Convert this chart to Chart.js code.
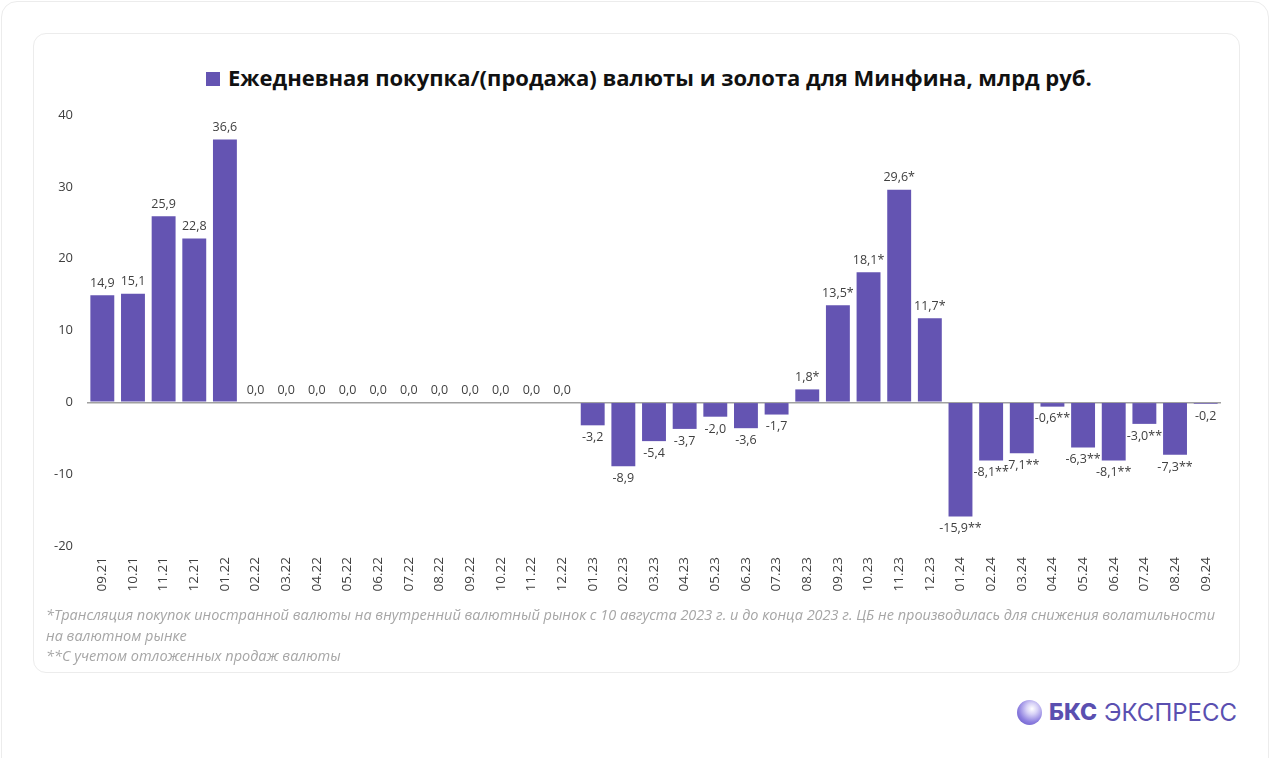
<!DOCTYPE html>
<html>
<head>
<meta charset="utf-8">
<script src="https://cdn.jsdelivr.net/npm/chart.js@4.4.0/dist/chart.umd.min.js"></script>
<style>
    html, body { margin: 0; padding: 0; background: #fff; }
    body { width: 1273px; height: 758px; position: relative; overflow: hidden; font-family: 'Open Sans', sans-serif; }
    .outer { position: absolute; left: 1px; top: 1px; width: 1268px; height: 780px; border: 1.5px solid #ececec; border-radius: 16px; box-sizing: border-box; }
    .card { position: absolute; left: 33px; top: 33px; width: 1207px; height: 640px; border: 1.5px solid #ececec; border-radius: 13px; box-sizing: border-box; }
    .title { position: absolute; left: 206px; top: 62px; font-weight: 700; font-size: 22px; color: #111; white-space: nowrap; line-height: 30px; }
    .title .box { display: inline-block; width: 14px; height: 14px; background: #6454b2; margin-right: 8px; vertical-align: 0px; }
    #wrap { position: absolute; left: 33px; top: 33px; width: 1207px; height: 640px; }
    .notes { position: absolute; left: 46px; top: 605px; font-style: italic; font-size: 14.5px; line-height: 20.5px; color: #a6a6a6; white-space: nowrap; }
    .logo { position: absolute; left: 1017px; top: 697px; height: 30px; display: flex; align-items: center; color: #5a4fb0; font-family: 'Inter', sans-serif; font-size: 24px; white-space: nowrap; }
    .logo .ball { width: 25px; height: 25px; border-radius: 50%; background: radial-gradient(circle at 60% 35%, #ffffff 0%, #d8d2f7 25%, #8e80e0 60%, #5a4bc0 100%); margin-right: 7px; }
    .logo b { font-weight: 800; margin-right: 7px; font-size: 23px; }
    .logo span { font-weight: 400; }
</style>
</head>
<body>
<div class="outer"></div>
<div class="card"></div>
<div class="title"><span class="box"></span>Ежедневная покупка/(продажа) валюты и золота для Минфина, млрд руб.</div>
<div id="wrap"><canvas id="mainChart"></canvas></div>
<div class="notes">*Трансляция покупок иностранной валюты на внутренний валютный рынок с 10 августа 2023 г. и до конца 2023 г. ЦБ не производилась для снижения волатильности<br>на валютном рынке<br>**С учетом отложенных продаж валюты</div>
<div class="logo"><div class="ball"></div><b>БКС</b><span>ЭКСПРЕСС</span></div>

<script>
/* ===== ДАННЫЕ ===== */
const months = [
    '09.21', '10.21', '11.21', '12.21', '01.22', '02.22', '03.22', '04.22', '05.22', '06.22',
    '07.22', '08.22', '09.22', '10.22', '11.22', '12.22', '01.23', '02.23', '03.23', '04.23',
    '05.23', '06.23', '07.23', '08.23', '09.23', '10.23', '11.23', '12.23', '01.24', '02.24',
    '03.24', '04.24', '05.24', '06.24', '07.24', '08.24', '09.24'
];
const values = [
    14.9, 15.1, 25.9, 22.8, 36.6, 0, 0, 0, 0, 0,
    0, 0, 0, 0, 0, 0, -3.2, -8.9, -5.4, -3.7,
    -2.0, -3.6, -1.7, 1.8, 13.5, 18.1, 29.6, 11.7, -15.9, -8.1,
    -7.1, -0.6, -6.3, -8.1, -3.0, -7.3, -0.2
];
// сноски к подписям
const marks = [
    '', '', '', '', '', '', '', '', '', '',
    '', '', '', '', '', '', '', '', '', '',
    '', '', '', '*', '*', '*', '*', '*', '**', '**',
    '**', '**', '**', '**', '**', '**', ''
];
const yTicks = [-20, -10, 0, 10, 20, 30, 40];

const barColor = '#6454b2';

// Подписи значений над/под столбцами
const valueLabels = {
    id: 'valueLabels',
    afterDatasetsDraw(chart) {
        const ctx = chart.ctx;
        const meta = chart.getDatasetMeta(0);
        ctx.save();
        ctx.font = '12.5px "Open Sans", sans-serif';
        ctx.fillStyle = '#404040';
        ctx.textAlign = 'center';
        meta.data.forEach((bar, i) => {
            const v = values[i];
            const txt = v.toFixed(1).replace('.', ',') + marks[i];
            if (v >= 0) {
                ctx.textBaseline = 'bottom';
                ctx.fillText(txt, bar.x, bar.y - 6);
            } else {
                ctx.textBaseline = 'top';
                ctx.fillText(txt, bar.x, bar.y + 6);
            }
        });
        ctx.restore();
    }
};

new Chart(document.getElementById('mainChart'), {
    type: 'bar',
    data: {
        labels: months,
        datasets: [{
            label: 'Ежедневная покупка/(продажа) валюты и золота для Минфина, млрд руб.',
            data: values,
            backgroundColor: barColor,
            borderWidth: 0,
            categoryPercentage: 1,
            barPercentage: 0.78
        }]
    },
    options: {
        responsive: true,
        maintainAspectRatio: false,
        animation: false,
        layout: { padding: { top: 82, right: 19, left: 0, bottom: 0 } },
        plugins: {
            legend: { display: false },
            tooltip: { enabled: false }
        },
        scales: {
            x: {
                grid: { display: false, drawTicks: false },
                border: { display: false },
                ticks: {
                    minRotation: 90,
                    maxRotation: 90,
                    padding: 11,
                    color: '#404040',
                    font: { family: '"Open Sans", sans-serif', size: 13.5 }
                },
                afterFit(scale) { scale.height = 127; }
            },
            y: {
                min: -20,
                max: 40,
                afterBuildTicks(scale) { scale.ticks = yTicks.map(v => ({ value: v })); },
                grid: {
                    drawTicks: false,
                    color: c => c.tick && c.tick.value === 0 ? '#a0a0a0' : 'rgba(0,0,0,0)',
                    lineWidth: 1.5
                },
                border: { display: false },
                ticks: {
                    padding: 14,
                    color: '#404040',
                    font: { family: '"Open Sans", sans-serif', size: 13 }
                },
                afterFit(scale) { scale.width = 54; }
            }
        }
    },
    plugins: [valueLabels]
});
</script>
</body>
</html>
